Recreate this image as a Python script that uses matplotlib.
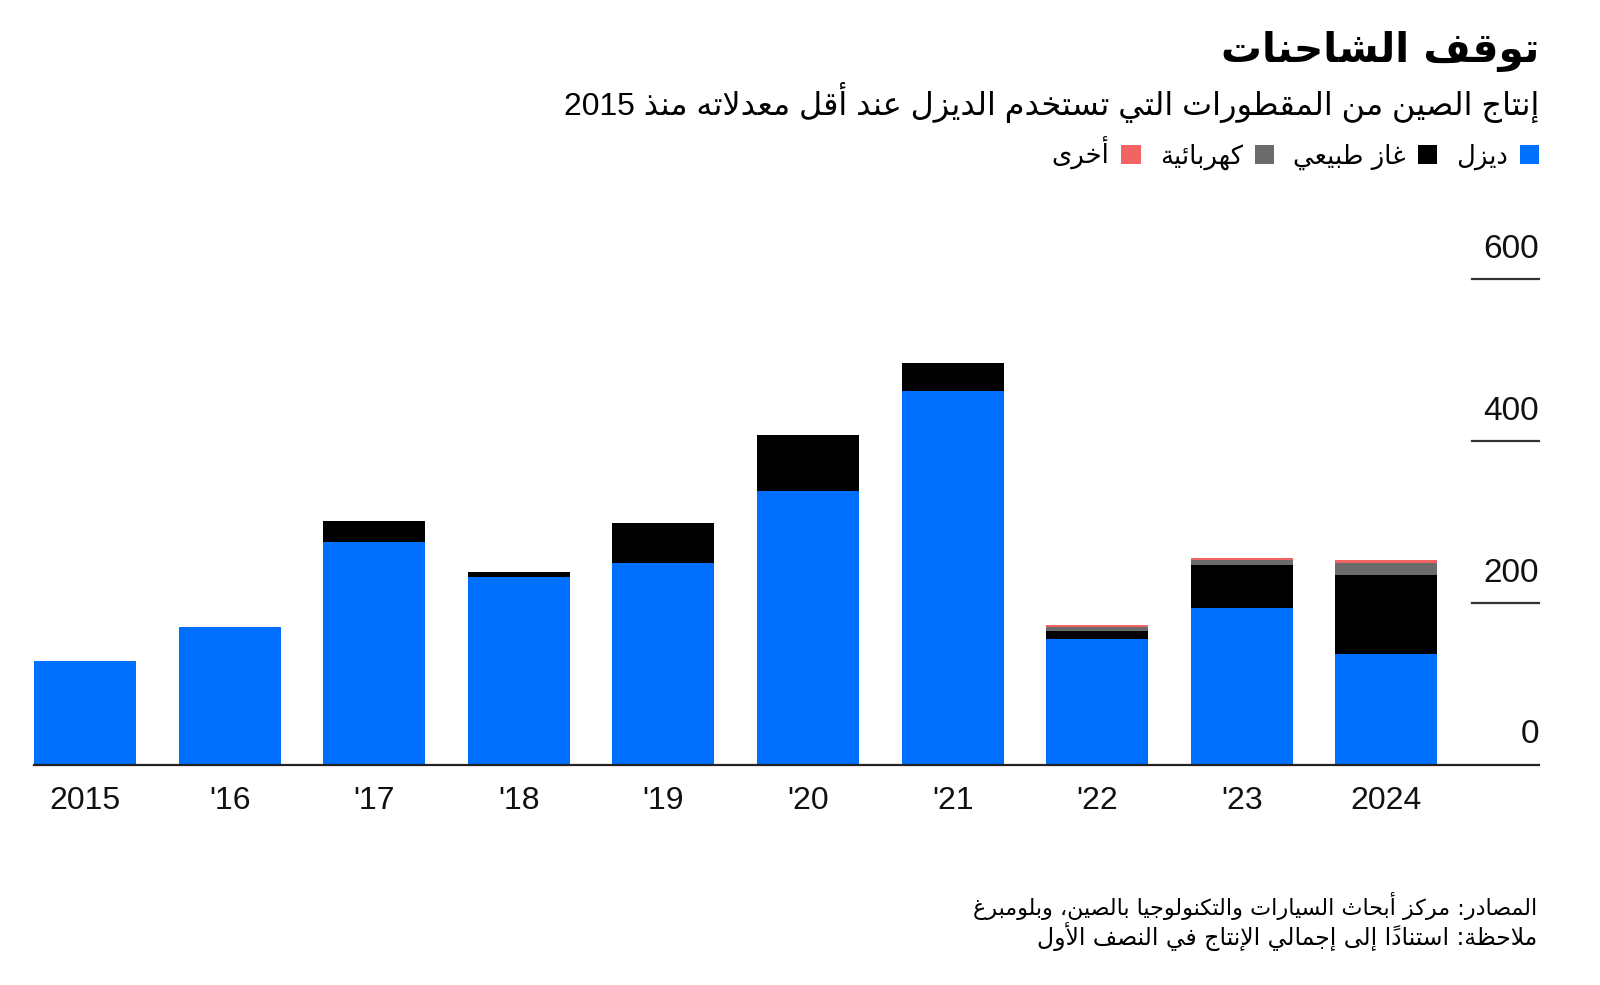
import matplotlib
matplotlib.use("Agg")
import matplotlib.pyplot as plt

plt.rcParams['font.family'] = ['Liberation Sans', 'DejaVu Sans']

# ---------------- data ----------------
years = ["2015", "'16", "'17", "'18", "'19", "'20", "'21", "'22", "'23", "2024"]
diesel = [129, 171, 276, 232, 250, 339, 462, 156, 194, 137]
natural_gas = [0, 0, 26, 7, 49, 69, 34, 9, 53, 98]
electric = [0, 0, 0, 0, 0, 0, 0, 5, 6, 14]
other = [0, 0, 0, 0, 0, 0, 0, 3, 3, 4]
series_names = ["ديزل", "غاز طبيعي", "كهربائية", "أخرى"]
series_colors = ["#0070FF", "#000000", "#6B6B6B", "#F26464"]
y_ticks = [0, 200, 400, 600]
title = "توقف الشاحنات"
subtitle = "إنتاج الصين من المقطورات التي تستخدم الديزل عند أقل معدلاته منذ 2015"
source = "المصادر: مركز أبحاث السيارات والتكنولوجيا بالصين، وبلومبرغ"
note = "ملاحظة: استناداً إلى إجمالي الإنتاج في النصف الأول"

# ------------- minimal Arabic shaping + bidi for display -------------
_TABLE = [('\u0621', 0xFE80, 1), ('\u0622', 0xFE81, 2), ('\u0623', 0xFE83, 2),
          ('\u0624', 0xFE85, 2), ('\u0625', 0xFE87, 2), ('\u0626', 0xFE89, 4),
          ('\u0627', 0xFE8D, 2), ('\u0628', 0xFE8F, 4), ('\u0629', 0xFE93, 2),
          ('\u062A', 0xFE95, 4), ('\u062B', 0xFE99, 4), ('\u062C', 0xFE9D, 4),
          ('\u062D', 0xFEA1, 4), ('\u062E', 0xFEA5, 4), ('\u062F', 0xFEA9, 2),
          ('\u0630', 0xFEAB, 2), ('\u0631', 0xFEAD, 2), ('\u0632', 0xFEAF, 2),
          ('\u0633', 0xFEB1, 4), ('\u0634', 0xFEB5, 4), ('\u0635', 0xFEB9, 4),
          ('\u0636', 0xFEBD, 4), ('\u0637', 0xFEC1, 4), ('\u0638', 0xFEC5, 4),
          ('\u0639', 0xFEC9, 4), ('\u063A', 0xFECD, 4), ('\u0641', 0xFED1, 4),
          ('\u0642', 0xFED5, 4), ('\u0643', 0xFED9, 4), ('\u0644', 0xFEDD, 4),
          ('\u0645', 0xFEE1, 4), ('\u0646', 0xFEE5, 4), ('\u0647', 0xFEE9, 4),
          ('\u0648', 0xFEED, 2), ('\u0649', 0xFEEF, 2), ('\u064A', 0xFEF1, 4)]
FORMS = {c: (s, n) for c, s, n in _TABLE}
LAMALEF = {'\u0622': 0xFEF5, '\u0623': 0xFEF7, '\u0625': 0xFEF9, '\u0627': 0xFEFB}


def is_mark(c):
    return '\u064B' <= c <= '\u0652'


def shape(s):
    ch = list(s)
    n = len(ch)
    res = []
    i = 0
    while i < n:
        c = ch[i]
        if c not in FORMS:
            res.append(c)
            i += 1
            continue
        j = i - 1
        while j >= 0 and is_mark(ch[j]):
            j -= 1
        prev_joins = j >= 0 and ch[j] in FORMS and FORMS[ch[j]][1] == 4
        k = i + 1
        while k < n and is_mark(ch[k]):
            k += 1
        if c == '\u0644' and k < n and ch[k] in LAMALEF:
            res.append(chr(LAMALEF[ch[k]] + (1 if prev_joins else 0)))
            res.extend(ch[i + 1:k])
            i = k + 1
            continue
        start, cnt = FORMS[c]
        next_join = cnt == 4 and k < n and ch[k] in FORMS and FORMS[ch[k]][1] > 1
        if cnt == 1:
            f = start
        elif cnt == 2:
            f = start + (1 if prev_joins else 0)
        else:
            if prev_joins and next_join:
                f = start + 3
            elif prev_joins:
                f = start + 1
            elif next_join:
                f = start + 2
            else:
                f = start
        res.append(chr(f))
        i += 1
    return res


def ar(s):
    clusters = []
    for c in shape(s):
        if is_mark(c) and clusters:
            clusters[-1] += c
        else:
            clusters.append(c)
    runs = []
    for cl in clusters:
        ltr = cl[0].isascii() and cl[0].isalnum()
        if runs and runs[-1][0] == ltr:
            runs[-1][1].append(cl)
        else:
            runs.append([ltr, [cl]])
    out = []
    for ltr, cls in reversed(runs):
        out.append(''.join(cls) if ltr else ''.join(reversed(cls)))
    return ''.join(out)


# ---------------- figure ----------------
W, H = 1600, 985
fig = plt.figure(figsize=(W / 100, H / 100), dpi=100)
fig.patch.set_facecolor('white')

ax_left, ax_right, ax_bottom, ax_top = 34, 1539, 765, 200   # pixels
ax = fig.add_axes([ax_left / W, (H - ax_bottom) / H,
                   (ax_right - ax_left) / W, (ax_bottom - ax_top) / H])

pitch = 144.6
bar_w = 102 / pitch
x = list(range(len(years)))
stack = [diesel, natural_gas, electric, other]
bottoms = [0] * len(years)
handles = []
for vals, name, col in zip(stack, series_names, series_colors):
    b = ax.bar(x, vals, width=bar_w, bottom=bottoms, color=col,
               linewidth=0, zorder=2)
    handles.append(b)
    bottoms = [p + q for p, q in zip(bottoms, vals)]

ax.set_xlim(-51 / pitch, (ax_right - 85) / pitch)
ax.set_ylim(0, (ax_bottom - ax_top) / 0.8095)

for s in ['top', 'left', 'right']:
    ax.spines[s].set_visible(False)
ax.spines['bottom'].set_color('#222222')
ax.spines['bottom'].set_linewidth(1.6)
ax.spines['bottom'].set_zorder(3)

ax.set_yticks([])
ax.set_xticks(x)
ax.set_xticklabels(years, fontsize=23, color='#111111', family='Liberation Sans')
ax.tick_params(axis='x', length=0, pad=15)

tick_x0 = (1472 - ax_left) / (ax_right - ax_left)
for v in y_ticks:
    if v > 0:
        ax.axhline(v, xmin=tick_x0, xmax=1.0, color='#333333', lw=1.6,
                   clip_on=False, zorder=3)
    ax.annotate(str(v), xy=(1.0, v), xycoords=('axes fraction', 'data'),
                xytext=(0, 15.5), textcoords='offset points',
                ha='right', va='baseline', fontsize=24, color='#111111',
                family='Liberation Sans')

# ---------------- texts ----------------
def fit(txt, target_w):
    fig.canvas.draw()
    r = fig.canvas.get_renderer()
    w = txt.get_window_extent(r).width
    txt.set_fontsize(txt.get_fontsize() * target_w / w)


t_title = fig.text(1539 / W, 1 - 51 / H, ar(title), ha='right', va='center',
                   fontsize=30, fontweight='bold', color='black',
                   family=['DejaVu Sans'])
t_sub = fig.text(1539 / W, 1 - 102 / H, ar(subtitle), ha='right', va='center',
                 fontsize=20, color='black', family=['Liberation Sans', 'DejaVu Sans'])
t_src = fig.text(1537 / W, 1 - 906 / H, ar(source), ha='right', va='center',
                 fontsize=15, color='black', family=['DejaVu Sans'])
t_note = fig.text(1537 / W, 1 - 936 / H, ar(note), ha='right', va='center',
                  fontsize=15, color='black', family=['DejaVu Sans'])
fit(t_title, 318)
fit(t_sub, 973)
fit(t_src, 567)
fit(t_note, 503)

order = [3, 2, 1, 0]
leg = fig.legend([handles[i] for i in order], [ar(series_names[i]) for i in order],
                 loc='center right', bbox_to_anchor=(1539 / W, 1 - 153 / H),
                 ncol=4, frameon=False, markerfirst=False,
                 handlelength=0.75, handleheight=0.75, handletextpad=0.45,
                 columnspacing=0.75, borderpad=0, borderaxespad=0,
                 prop={'family': ['DejaVu Sans'], 'size': 18.6})

fig.savefig('out.png', dpi=100, facecolor='white')
